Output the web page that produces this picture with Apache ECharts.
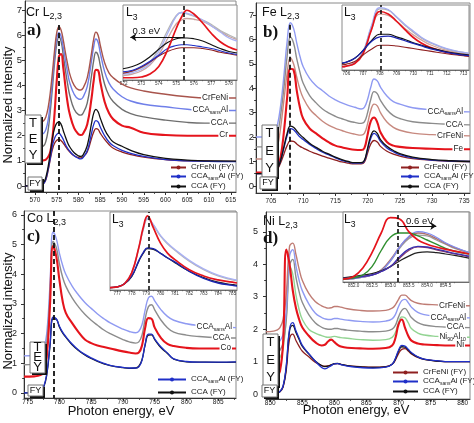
<!DOCTYPE html>
<html><head><meta charset="utf-8">
<script src="https://cdn.jsdelivr.net/npm/echarts@6/dist/echarts.min.js"></script>
<style>html,body{margin:0;padding:0;background:#fff}#c{width:474px;height:423px}</style>
</head><body><div id="c"></div>
<script>
// ===================== DATA =====================
// ---- Panel a) Cr L2,3 (main) ----
const crX = [567.7, 571, 572, 572.5, 573, 573.5, 574, 574.5, 575, 575.5, 576, 576.5, 577, 577.5, 578, 579, 580, 580.5, 581, 582, 583, 583.5, 584, 584.5, 585, 586, 587, 588, 590, 592, 595, 600, 605, 609, 612, 616.2];
const crCrFeNi = [2.5, 2.52, 2.6, 2.75, 3.1, 3.7, 4.5, 5.4, 6.1, 6.34, 6.2, 5.8, 5.3, 4.85, 4.45, 4.0, 3.83, 3.82, 3.88, 4.3, 5.3, 5.85, 6.12, 6.0, 5.6, 4.9, 4.5, 4.3, 4.05, 3.9, 3.78, 3.65, 3.55, 3.5, 3.5, 3.5];
const crSans = [2.0, 2.02, 2.1, 2.25, 2.6, 3.3, 4.2, 5.15, 5.85, 6.1, 5.95, 5.5, 5.0, 4.5, 4.1, 3.65, 3.46, 3.45, 3.52, 3.95, 5.0, 5.55, 5.85, 5.72, 5.3, 4.55, 4.1, 3.85, 3.55, 3.38, 3.25, 3.15, 3.05, 3.0, 3.0, 3.0];
const crCCA = [1.5, 1.52, 1.6, 1.78, 2.2, 2.95, 3.9, 4.9, 5.65, 5.93, 5.75, 5.2, 4.6, 4.05, 3.6, 3.05, 2.84, 2.82, 2.88, 3.3, 4.4, 5.0, 5.32, 5.2, 4.8, 4.05, 3.6, 3.35, 3.05, 2.88, 2.75, 2.62, 2.53, 2.5, 2.5, 2.5];
const crCr = [1.0, 1.0, 1.02, 1.05, 1.15, 1.35, 1.9, 2.9, 4.2, 5.15, 5.25, 4.7, 3.95, 3.3, 2.85, 2.3, 2.06, 2.03, 2.07, 2.45, 3.5, 4.2, 4.62, 4.6, 4.15, 3.35, 2.9, 2.65, 2.4, 2.32, 2.12, 2.03, 2.0, 2.0, 2.0, 2.0];
const crCrFeNiFY = [0.0, 0.02, 0.1, 0.25, 0.6, 1.05, 1.45, 1.7, 1.82, 1.85, 1.8, 1.7, 1.58, 1.45, 1.35, 1.2, 1.13, 1.12, 1.15, 1.35, 1.9, 2.15, 2.28, 2.25, 2.1, 1.85, 1.65, 1.5, 1.35, 1.25, 1.15, 1.05, 1.0, 1.0, 0.98, 0.98];
const crSansFY = [0.0, 0.02, 0.1, 0.28, 0.65, 1.1, 1.6, 1.9, 2.05, 2.1, 2.0, 1.85, 1.65, 1.5, 1.38, 1.2, 1.1, 1.08, 1.12, 1.4, 2.1, 2.45, 2.6, 2.55, 2.35, 2.0, 1.75, 1.6, 1.42, 1.3, 1.18, 1.05, 1.0, 0.98, 0.97, 0.97];
const crCCAFY = [0.0, 0.05, 0.15, 0.35, 0.75, 1.3, 1.9, 2.3, 2.5, 2.55, 2.45, 2.2, 1.95, 1.72, 1.55, 1.32, 1.2, 1.18, 1.22, 1.6, 2.5, 2.9, 3.05, 2.95, 2.7, 2.25, 1.95, 1.75, 1.58, 1.42, 1.25, 1.1, 1.03, 1.0, 1.0, 0.99];
// ---- Panel a) inset Cr L3 ----
const criX = [571.96, 572.5, 573, 573.5, 574, 574.5, 575, 575.3, 575.6, 576, 576.5, 577, 577.5, 578, 578.46];
const criCr = [0.03, 0.03, 0.04, 0.08, 0.18, 0.4, 0.69, 0.84, 0.93, 0.88, 0.76, 0.62, 0.51, 0.44, 0.4];
const criSans = [0.08, 0.1, 0.14, 0.22, 0.38, 0.62, 0.85, 0.9, 0.89, 0.86, 0.8, 0.72, 0.64, 0.56, 0.52];
const criCCA = [0.1, 0.12, 0.16, 0.24, 0.42, 0.66, 0.86, 0.9, 0.88, 0.85, 0.8, 0.74, 0.66, 0.6, 0.55];
const criCrFeNi = [0.06, 0.08, 0.12, 0.2, 0.34, 0.55, 0.75, 0.8, 0.82, 0.81, 0.78, 0.72, 0.65, 0.58, 0.54];
const criCCAFY = [0.15, 0.18, 0.23, 0.31, 0.41, 0.5, 0.55, 0.56, 0.56, 0.55, 0.52, 0.47, 0.42, 0.38, 0.36];
const criSansFY = [0.11, 0.13, 0.18, 0.25, 0.33, 0.42, 0.46, 0.47, 0.47, 0.46, 0.44, 0.42, 0.39, 0.36, 0.34];
const criCrFeNiFY = [0.09, 0.12, 0.17, 0.24, 0.32, 0.38, 0.42, 0.43, 0.43, 0.43, 0.42, 0.4, 0.37, 0.35, 0.33];

// ---- Panel b) Fe L2,3 (main) ----
const feX = [702.67, 704, 705, 705.5, 706, 706.5, 707, 707.5, 708, 708.5, 709, 709.5, 710, 711, 712, 713, 714, 715, 716, 717, 718, 719, 719.5, 720, 720.5, 721, 721.5, 722, 723, 724, 725, 727, 730, 733, 735.9];
const feSans = [2.0, 2.0, 2.05, 2.15, 2.5, 3.3, 4.5, 5.9, 6.68, 6.45, 5.85, 5.3, 4.88, 4.4, 4.1, 3.9, 3.68, 3.52, 3.4, 3.3, 3.22, 3.15, 3.22, 3.55, 4.05, 4.38, 4.3, 4.05, 3.68, 3.45, 3.35, 3.2, 3.12, 3.06, 3.03];
const feCCA = [1.6, 1.6, 1.65, 1.75, 2.1, 2.9, 4.0, 5.3, 6.1, 5.85, 5.2, 4.65, 4.2, 3.7, 3.4, 3.15, 2.98, 2.85, 2.75, 2.66, 2.6, 2.56, 2.62, 3.0, 3.55, 3.86, 3.78, 3.5, 3.12, 2.88, 2.76, 2.63, 2.56, 2.52, 2.5];
const feCrFeNi = [1.1, 1.1, 1.15, 1.25, 1.6, 2.4, 3.5, 4.6, 5.25, 5.0, 4.45, 3.95, 3.6, 3.15, 2.88, 2.65, 2.48, 2.36, 2.27, 2.18, 2.12, 2.08, 2.15, 2.55, 3.1, 3.35, 3.28, 3.0, 2.62, 2.4, 2.28, 2.16, 2.1, 2.07, 2.05];
const feFe = [0.55, 0.55, 0.57, 0.6, 0.75, 1.2, 2.2, 3.6, 4.8, 4.75, 3.9, 3.2, 2.75, 2.35, 2.15, 1.95, 1.78, 1.65, 1.58, 1.52, 1.48, 1.47, 1.55, 2.1, 2.65, 2.8, 2.6, 2.2, 1.8, 1.65, 1.6, 1.55, 1.52, 1.5, 1.5];
const feCCAFY = [0.5, 0.5, 0.52, 0.55, 0.7, 1.05, 1.6, 2.15, 2.45, 2.4, 2.25, 2.1, 1.98, 1.75, 1.58, 1.42, 1.3, 1.18, 1.08, 1.0, 0.95, 0.95, 1.05, 1.55, 2.05, 2.25, 2.15, 1.9, 1.62, 1.45, 1.32, 1.18, 1.08, 1.03, 1.0];
const feSansFY = [0.5, 0.5, 0.52, 0.55, 0.72, 1.05, 1.55, 2.05, 2.35, 2.3, 2.15, 2.0, 1.9, 1.7, 1.53, 1.38, 1.27, 1.15, 1.05, 0.98, 0.93, 0.93, 1.02, 1.48, 1.95, 2.15, 2.05, 1.82, 1.55, 1.4, 1.28, 1.15, 1.06, 1.02, 1.0];
const feCrFeNiFY = [0.5, 0.5, 0.52, 0.55, 0.68, 0.95, 1.3, 1.65, 1.84, 1.82, 1.72, 1.62, 1.55, 1.42, 1.32, 1.22, 1.14, 1.06, 0.98, 0.93, 0.9, 0.9, 0.97, 1.35, 1.72, 1.86, 1.8, 1.62, 1.42, 1.3, 1.22, 1.12, 1.05, 1.01, 1.0];
// ---- Panel b) inset Fe L3 ----
const feiX = [705.74, 706, 706.5, 707, 707.5, 708, 708.5, 709, 709.5, 710, 710.5, 711, 712, 713, 713.33];
const feiFe = [0.05, 0.06, 0.1, 0.25, 0.62, 0.9, 0.86, 0.75, 0.62, 0.5, 0.41, 0.35, 0.27, 0.23, 0.22];
const feiSans = [0.05, 0.06, 0.11, 0.28, 0.68, 0.96, 0.93, 0.82, 0.7, 0.6, 0.5, 0.43, 0.33, 0.27, 0.26];
const feiCCA = [0.05, 0.06, 0.11, 0.28, 0.66, 0.94, 0.92, 0.81, 0.69, 0.58, 0.49, 0.42, 0.32, 0.27, 0.25];
const feiCrFeNi = [0.05, 0.06, 0.1, 0.26, 0.62, 0.86, 0.84, 0.75, 0.64, 0.54, 0.46, 0.39, 0.3, 0.25, 0.24];
const feiCCAFY = [0.1, 0.12, 0.18, 0.3, 0.45, 0.55, 0.55, 0.51, 0.47, 0.42, 0.38, 0.34, 0.28, 0.24, 0.23];
const feiSansFY = [0.11, 0.12, 0.18, 0.3, 0.44, 0.51, 0.52, 0.49, 0.45, 0.41, 0.37, 0.33, 0.27, 0.23, 0.22];
const feiCrFeNiFY = [0.08, 0.09, 0.13, 0.23, 0.32, 0.38, 0.38, 0.37, 0.35, 0.33, 0.31, 0.29, 0.25, 0.22, 0.21];

// ---- Panel c) Co L2,3 (main) ----
const coX = [774.42, 776, 777, 777.5, 778, 778.5, 779, 779.5, 780, 780.5, 781, 782, 783, 784, 785, 786, 787, 788, 790, 791, 792, 792.5, 793, 793.5, 794, 794.5, 795, 796, 797, 798, 800, 802, 805, 807.8];
const coSans = [1.25, 1.27, 1.32, 1.45, 2.0, 3.6, 5.42, 5.2, 4.7, 4.3, 4.0, 3.6, 3.3, 3.05, 2.85, 2.66, 2.5, 2.36, 2.15, 2.07, 2.03, 2.08, 2.3, 2.8, 3.2, 3.26, 3.1, 2.8, 2.58, 2.45, 2.33, 2.27, 2.22, 2.2];
const coCCA = [0.95, 0.97, 1.02, 1.15, 1.7, 3.3, 5.1, 4.9, 4.35, 3.9, 3.6, 3.2, 2.9, 2.65, 2.45, 2.28, 2.12, 2.0, 1.8, 1.72, 1.68, 1.72, 1.95, 2.5, 2.9, 2.97, 2.8, 2.45, 2.2, 2.05, 1.95, 1.9, 1.86, 1.85];
const coCo = [0.55, 0.56, 0.6, 0.7, 1.2, 2.9, 4.95, 4.6, 3.8, 3.1, 2.7, 2.35, 2.05, 1.8, 1.68, 1.6, 1.55, 1.5, 1.4, 1.36, 1.33, 1.36, 1.6, 2.2, 2.52, 2.5, 2.2, 1.85, 1.65, 1.58, 1.52, 1.5, 1.5, 1.5];
const coSansFY = [0.0, 0.02, 0.08, 0.2, 0.65, 1.6, 2.55, 2.5, 2.25, 2.05, 1.9, 1.65, 1.45, 1.3, 1.18, 1.08, 1.0, 0.93, 0.86, 0.84, 0.84, 0.88, 1.1, 1.65, 1.98, 1.98, 1.82, 1.55, 1.35, 1.15, 1.06, 1.04, 1.04, 1.05];
const coCCAFY = [0.0, 0.02, 0.07, 0.18, 0.6, 1.55, 2.5, 2.48, 2.22, 2.02, 1.88, 1.62, 1.43, 1.28, 1.16, 1.06, 0.98, 0.92, 0.85, 0.83, 0.84, 0.9, 1.12, 1.62, 1.95, 1.96, 1.8, 1.52, 1.33, 1.14, 1.05, 1.04, 1.03, 1.04];
// ---- Panel c) inset Co L3 ----
const coiX = [776.49, 777, 777.5, 778, 778.5, 778.8, 779.1, 779.5, 780, 780.5, 781, 782, 783, 784, 785, 785.32];
const coiCo = [0.03, 0.04, 0.08, 0.22, 0.55, 0.8, 0.95, 0.8, 0.6, 0.47, 0.39, 0.26, 0.18, 0.13, 0.1, 0.09];
const coiSans = [0.03, 0.04, 0.08, 0.22, 0.55, 0.78, 0.92, 0.84, 0.7, 0.6, 0.52, 0.38, 0.27, 0.19, 0.14, 0.13];
const coiCCA = [0.03, 0.04, 0.08, 0.22, 0.54, 0.77, 0.91, 0.83, 0.69, 0.59, 0.51, 0.37, 0.26, 0.18, 0.13, 0.12];
const coiSansFY = [0.03, 0.04, 0.08, 0.18, 0.38, 0.48, 0.54, 0.53, 0.47, 0.41, 0.36, 0.24, 0.15, 0.09, 0.06, 0.05];
const coiCCAFY = [0.03, 0.04, 0.08, 0.17, 0.37, 0.47, 0.53, 0.52, 0.47, 0.41, 0.35, 0.24, 0.16, 0.1, 0.07, 0.06];

// ---- Panel d) Ni L2,3 (main) ----
const niX = [849.33, 850.5, 851, 851.5, 852, 852.5, 853, 853.5, 854, 854.5, 855, 856, 857, 858, 858.5, 859, 859.5, 860, 860.5, 861, 862, 864, 866, 868, 869, 869.5, 870, 870.5, 871, 871.5, 872, 873, 874, 876, 878, 881.14];
const niCrFeNi = [1.92, 1.94, 1.97, 2.05, 2.3, 3.1, 4.55, 4.65, 4.3, 3.85, 3.5, 3.1, 2.85, 2.72, 2.68, 2.65, 2.66, 2.7, 2.7, 2.68, 2.63, 2.58, 2.56, 2.58, 2.65, 2.75, 2.92, 3.05, 3.05, 2.97, 2.88, 2.8, 2.77, 2.75, 2.73, 2.72];
const niSans = [1.5, 1.52, 1.56, 1.64, 1.85, 2.6, 4.25, 4.45, 3.95, 3.5, 3.18, 2.78, 2.5, 2.36, 2.32, 2.3, 2.3, 2.33, 2.33, 2.31, 2.28, 2.24, 2.22, 2.25, 2.32, 2.45, 2.7, 2.88, 2.92, 2.82, 2.68, 2.52, 2.45, 2.4, 2.37, 2.35];
const niCCA = [1.22, 1.24, 1.27, 1.35, 1.58, 2.3, 3.95, 4.15, 3.6, 3.15, 2.82, 2.45, 2.2, 2.06, 2.02, 2.0, 2.0, 2.02, 2.02, 2.0, 1.97, 1.94, 1.92, 1.94, 2.0, 2.12, 2.38, 2.58, 2.64, 2.52, 2.36, 2.2, 2.13, 2.08, 2.06, 2.05];
const niNiAl = [1.0, 1.02, 1.05, 1.12, 1.4, 2.4, 3.95, 3.7, 3.05, 2.6, 2.3, 2.0, 1.88, 1.8, 1.77, 1.75, 1.76, 1.78, 1.76, 1.74, 1.72, 1.68, 1.66, 1.68, 1.75, 1.9, 2.2, 2.38, 2.35, 2.2, 2.02, 1.88, 1.82, 1.78, 1.76, 1.75];
const niNi = [0.5, 0.51, 0.55, 0.7, 1.6, 4.45, 4.0, 3.2, 2.65, 2.3, 2.05, 1.8, 1.6, 1.5, 1.52, 1.62, 1.68, 1.6, 1.52, 1.47, 1.43, 1.41, 1.4, 1.42, 1.5, 1.72, 2.15, 2.3, 2.05, 1.8, 1.65, 1.56, 1.53, 1.51, 1.5, 1.5];
const niSansFY = [0.0, 0.01, 0.03, 0.08, 0.25, 0.9, 2.0, 2.2, 1.95, 1.72, 1.5, 1.25, 1.02, 0.82, 0.78, 0.82, 0.88, 0.93, 0.94, 0.91, 0.86, 0.82, 0.8, 0.83, 0.92, 1.1, 1.35, 1.5, 1.48, 1.38, 1.28, 1.15, 1.08, 1.03, 1.0, 1.0];
const niCCAFY = [0.0, 0.01, 0.03, 0.08, 0.24, 0.85, 1.95, 2.12, 1.9, 1.68, 1.47, 1.24, 1.02, 0.88, 0.85, 0.86, 0.9, 0.94, 0.95, 0.92, 0.88, 0.84, 0.82, 0.84, 0.92, 1.08, 1.32, 1.46, 1.45, 1.36, 1.26, 1.14, 1.07, 1.02, 1.0, 1.0];
const niCrFeNiFY = [0.0, 0.01, 0.03, 0.07, 0.22, 0.75, 1.7, 1.85, 1.65, 1.47, 1.32, 1.15, 0.98, 0.88, 0.86, 0.87, 0.9, 0.93, 0.94, 0.92, 0.88, 0.85, 0.83, 0.85, 0.92, 1.05, 1.25, 1.38, 1.4, 1.33, 1.24, 1.13, 1.07, 1.02, 1.0, 1.0];
// ---- Panel d) inset Ni L3 ----
const niiX = [851.71, 852.0, 852.25, 852.5, 852.75, 853.0, 853.25, 853.5, 853.75, 854.0, 854.25, 854.5, 854.75, 855.14];
const niiNi = [0.04, 0.08, 0.2, 0.42, 0.7, 0.92, 0.9, 0.72, 0.6, 0.54, 0.5, 0.47, 0.44, 0.4];
const niiNiAl = [0.04, 0.06, 0.1, 0.22, 0.45, 0.64, 0.7, 0.7, 0.66, 0.6, 0.54, 0.48, 0.44, 0.4];
const niiSans = [0.04, 0.05, 0.07, 0.1, 0.16, 0.3, 0.5, 0.65, 0.72, 0.7, 0.64, 0.56, 0.5, 0.42];
const niiCCA = [0.04, 0.05, 0.07, 0.1, 0.17, 0.3, 0.48, 0.62, 0.67, 0.66, 0.6, 0.54, 0.48, 0.42];
const niiCrFeNi = [0.04, 0.05, 0.07, 0.1, 0.17, 0.32, 0.5, 0.64, 0.7, 0.68, 0.62, 0.55, 0.49, 0.42];
const niiSansFY = [0.05, 0.06, 0.08, 0.1, 0.15, 0.22, 0.36, 0.47, 0.51, 0.5, 0.47, 0.44, 0.41, 0.37];
const niiCrFeNiFY = [0.05, 0.06, 0.08, 0.1, 0.15, 0.22, 0.34, 0.45, 0.5, 0.49, 0.46, 0.43, 0.4, 0.36];
const niiCCAFY = [0.06, 0.08, 0.1, 0.12, 0.16, 0.22, 0.3, 0.37, 0.42, 0.43, 0.42, 0.4, 0.38, 0.34];

// ---- Tick labels ----
const crXTicks = [570, 575, 580, 585, 590, 595, 600, 605, 610, 615];
const crYTicks = [0, 1, 2, 3, 4, 5, 6, 7];
const feXTicks = [705, 710, 715, 720, 725, 730, 735];
const feYTicks = [0, 1, 2, 3, 4, 5, 6, 7];
const coXTicks = [775, 780, 785, 790, 795, 800, 805];
const coYTicks = [0, 1, 2, 3, 4, 5, 6];
const niXTicks = [850, 855, 860, 865, 870, 875, 880];
const niYTicks = [0, 1, 2, 3, 4, 5];
const criXTicks = [572, 573, 574, 575, 576, 577, 578];
const feiXTicks = [706, 707, 708, 709, 710, 711, 712, 713];
const coiXTicks = [777, 778, 779, 780, 781, 782, 783, 784, 785];
const niiXTicks = [852.0, 852.5, 853.0, 853.5, 854.0, 854.5];

// ---- Reference energies (dashed lines) and shifts ----
const dashMain = [575.4, 707.85, 779.1];     // a, b, c main panels
const dashMainTop = [6.41, 6.6, 6.13];
const dashInset = [575.45, 708.05, 779.2, 853.2];
const shiftA = [575.43, 572.38, 0.57];   // arrow from, to, level  (0.3 eV)
const shiftD = [853.2, 854.25, 0.8];     // arrow from, to, level  (0.6 eV)

// ===================== BUILD =====================
const FONT = '"Liberation Sans", Arial, sans-serif';
const COL = {
  el: '#e5141c', crfeniA: '#a8544c', crfeniB: '#c7897f', crfeniD: '#bf7c74',
  sansA: '#6f7fe9', sans: '#8f9af2', ccaA: '#6e6e6e', cca: '#8c8c8c',
  crfeniFY: '#8f2020', sansFY: '#2030c8', ccaFY: '#111111',
  nial: '#93d493', nialIn: '#2f8f2f'
};
const grid = [], xAxis = [], yAxis = [], series = [];

function minorsOf(ticks, range) {
  const step = ticks.length > 1 ? ticks[1] - ticks[0] : 1, out = [];
  for (let v = ticks[0] - step / 2; v <= range[1] + 1e-9; v += step) if (v >= range[0]) out.push(+v.toFixed(4));
  return out;
}
function mainPanel(box, xr, yr, xt, yt, st) {
  const gi = grid.push({left: box[0], top: box[1], width: box[2], height: box[3], show: true,
    borderColor: '#8a8a8a', borderWidth: 1, backgroundColor: 'transparent', containLabel: false, outerBoundsMode: 'none'}) - 1;
  const xi = xAxis.push({type: 'value', gridIndex: gi, min: xr[0], max: xr[1], position: 'bottom',
    axisLine: {show: true, onZero: false, lineStyle: {color: '#333', width: 1}},
    axisTick: {show: true, customValues: xt, length: 3, lineStyle: {color: '#333'}},
    axisLabel: {show: true, customValues: xt, fontSize: st.fx, margin: st.mx, color: '#222', fontFamily: FONT},
    splitLine: {show: false}}) - 1;
  xAxis.push({type: 'value', gridIndex: gi, min: xr[0], max: xr[1], position: 'bottom',
    axisLine: {show: false, onZero: false}, axisTick: {show: true, customValues: minorsOf(xt, xr), length: 1.8, lineStyle: {color: '#333'}},
    axisLabel: {show: false}, splitLine: {show: false}});
  const yi = yAxis.push({type: 'value', gridIndex: gi, min: yr[0], max: yr[1], position: 'left',
    axisLine: {show: true, onZero: false, lineStyle: {color: '#333', width: 1}},
    axisTick: {show: true, customValues: yt, length: 3, lineStyle: {color: '#333'}},
    axisLabel: {show: true, customValues: yt, fontSize: st.fy, margin: st.my, color: '#222', fontFamily: FONT},
    splitLine: {show: false}}) - 1;
  yAxis.push({type: 'value', gridIndex: gi, min: yr[0], max: yr[1], position: 'left',
    axisLine: {show: false, onZero: false}, axisTick: {show: true, customValues: minorsOf(yt, yr), length: 1.8, lineStyle: {color: '#333'}},
    axisLabel: {show: false}, splitLine: {show: false}});
  return {xi, yi};
}
function insetPanel(box, xr, xt, fmt) {
  const gi = grid.push({left: box[0], top: box[1], width: box[2], height: box[3], show: true,
    borderColor: '#8a8a8a', borderWidth: 1, backgroundColor: '#fff', containLabel: false, outerBoundsMode: 'none'}) - 1;
  const xi = xAxis.push({type: 'value', gridIndex: gi, min: xr[0], max: xr[1], position: 'bottom',
    axisLine: {show: true, onZero: false, lineStyle: {color: '#555', width: 0.8}},
    axisTick: {show: true, customValues: xt, length: 2, lineStyle: {color: '#555', width: 0.8}},
    axisLabel: {show: true, customValues: xt, fontSize: 4.6, margin: 1.5, color: '#333', fontFamily: FONT, formatter: fmt},
    splitLine: {show: false}}) - 1;
  xAxis.push({type: 'value', gridIndex: gi, min: xr[0], max: xr[1], position: 'bottom',
    axisLine: {show: false, onZero: false}, axisTick: {show: true, customValues: minorsOf(xt, xr), length: 1.2, lineStyle: {color: '#555', width: 0.8}},
    axisLabel: {show: false}, splitLine: {show: false}});
  const yi = yAxis.push({type: 'value', gridIndex: gi, min: 0, max: 1, show: false}) - 1;
  return {xi, yi};
}
const RICH = {
  m: {fontSize: 8.2, lineHeight: 9, verticalAlign: 'top', fontFamily: FONT, color: '#222'},
  s: {fontSize: 5.2, lineHeight: 5, verticalAlign: 'bottom', fontFamily: FONT, color: '#222'}
};
function richName(n) {
  if (n === 'Ni90Al10') return '{m|Ni}{s|90}{m|Al}{s|10}';
  const i = n.indexOf('sans');
  if (i < 0) return '{m|' + n + '}';
  return '{m|' + n.slice(0, i) + '}{s|sans}' + (n.slice(i + 4) ? '{m|' + n.slice(i + 4) + '}' : '');
}
function ln(name, ax, xs, ys, color, width, extra) {
  if (xs.length !== ys.length) console.error('length mismatch', name, xs.length, ys.length);
  return Object.assign({
    type: 'line', name, xAxisIndex: ax.xi, yAxisIndex: ax.yi,
    data: xs.map((x, i) => [x, ys[i]]),
    smooth: 0.45, symbol: 'circle', symbolSize: 3, showSymbol: false,
    lineStyle: {color, width}, itemStyle: {color},
    emphasis: {disabled: true}, silent: true, animation: false
  }, extra || {});
}
function endLab(name, dist) {
  return {endLabel: {show: true, formatter: richName(name), align: 'right', distance: -dist,
    backgroundColor: '#fff', padding: [0, 1, 0, 1], rich: RICH}};
}
function dashSeg(x, top, bottom) {
  return {silent: true, symbol: ['none', 'none'], label: {show: false}, animation: false,
    lineStyle: {color: '#111', type: [5, 3], width: 1.8},
    data: [[{coord: [x, top]}, {coord: [x, bottom]}]]};
}
function dashFull(x) {
  return {silent: true, symbol: ['none', 'none'], label: {show: false}, animation: false,
    lineStyle: {color: '#111', type: [4, 3], width: 1.6}, data: [{xAxis: x}]};
}
function arrow(sh) {
  return {silent: true, symbol: ['none', 'arrow'], symbolSize: 6, label: {show: false}, animation: false,
    lineStyle: {color: '#111', type: 'solid', width: 1},
    data: [[{coord: [sh[0], sh[2]]}, {coord: [sh[1], sh[2]]}]]};
}
function textAt(x, y, txt) {
  return {symbol: 'circle', symbolSize: 0, silent: true, animation: false,
    label: {show: true, position: 'inside', formatter: txt, fontSize: 9.5, color: '#111', fontFamily: FONT},
    data: [{coord: [x, y]}]};
}

// ---- a) ----
const A = mainPanel([25, 1, 211, 191], [567.7, 616.2], [-0.24, 7.36], crXTicks, crYTicks, {fx: 6.5, mx: 5, fy: 9.5, my: 3});
series.push(ln('CCA', A, crX, crCCA, COL.ccaA, 1.4, endLab('CCA', 7)));
series.push(ln('CCAsansAl', A, crX, crSans, COL.sansA, 1.4, endLab('CCAsansAl', 7)));
series.push(ln('CrFeNi', A, crX, crCrFeNi, COL.crfeniA, 1.4, endLab('CrFeNi', 7)));
series.push(ln('Cr', A, crX, crCr, COL.el, 2.1, endLab('Cr', 7)));
series.push(ln('CrFeNi (FY)', A, crX, crCrFeNiFY, COL.crfeniFY, 1.3));
series.push(ln('CCAsansAl (FY)', A, crX, crSansFY, COL.sansFY, 1.3));
series.push(ln('CCA (FY)', A, crX, crCCAFY, COL.ccaFY, 1.3, {markLine: dashSeg(dashMain[0], dashMainTop[0], -0.24)}));
const AI = insetPanel([123, 5, 114, 75], [571.96, 578.46], criXTicks, v => v);
series.push(ln('i-a CrFeNi', AI, criX, criCrFeNi, '#c9a3a0', 1.3));
series.push(ln('i-a CCA', AI, criX, criCCA, '#b5b5b5', 1.3));
series.push(ln('i-a sans', AI, criX, criSans, '#a9b1f3', 1.3));
series.push(ln('i-a FY brown', AI, criX, criCrFeNiFY, COL.crfeniFY, 1.1));
series.push(ln('i-a FY blue', AI, criX, criSansFY, COL.sansFY, 1.1));
series.push(ln('i-a FY black', AI, criX, criCCAFY, COL.ccaFY, 1.2, {markLine: arrow(shiftA), markPoint: textAt(573.29, 0.645, '0.3 eV')}));
series.push(ln('i-a Cr', AI, criX, criCr, COL.el, 1.7, {markLine: dashFull(dashInset[0])}));

// ---- b) ----
const B = mainPanel([256, 3, 214, 190], [702.67, 735.9], [-0.29, 7.49], feXTicks, feYTicks, {fx: 6.5, mx: 5, fy: 9.5, my: 2});
series.push(ln('CCAsansAl', B, feX, feSans, COL.sans, 1.4, endLab('CCAsansAl', 6)));
series.push(ln('CCA', B, feX, feCCA, COL.cca, 1.4, endLab('CCA', 6)));
series.push(ln('CrFeNi', B, feX, feCrFeNi, COL.crfeniB, 1.4, endLab('CrFeNi', 6)));
series.push(ln('Fe', B, feX, feFe, COL.el, 2.1, endLab('Fe', 6)));
series.push(ln('CrFeNi (FY)', B, feX, feCrFeNiFY, COL.crfeniFY, 1.3));
series.push(ln('CCAsansAl (FY)', B, feX, feSansFY, COL.sansFY, 1.3));
series.push(ln('CCA (FY)', B, feX, feCCAFY, COL.ccaFY, 1.3, {markLine: dashSeg(dashMain[1], dashMainTop[1], -0.29)}));
const BI = insetPanel([342, 5, 127, 65], [705.74, 713.33], feiXTicks, v => v);
series.push(ln('i-b CrFeNi', BI, feiX, feiCrFeNi, '#d3a29c', 1.3));
series.push(ln('i-b CCA', BI, feiX, feiCCA, '#b0b0b0', 1.3));
series.push(ln('i-b sans', BI, feiX, feiSans, '#a3acf3', 1.3));
series.push(ln('i-b Fe', BI, feiX, feiFe, COL.el, 1.7));
series.push(ln('i-b FY brown', BI, feiX, feiCrFeNiFY, COL.crfeniFY, 1.1));
series.push(ln('i-b FY black', BI, feiX, feiCCAFY, COL.ccaFY, 1.2));
series.push(ln('i-b FY blue', BI, feiX, feiSansFY, '#1a24b0', 1.3, {markLine: dashFull(dashInset[1])}));

// ---- c) ----
const Cc = mainPanel([24, 211, 212, 187], [774.42, 807.8], [-0.17, 6.13], coXTicks, coYTicks, {fx: 6.5, mx: 1, fy: 9, my: 7});
series.push(ln('CCAsansAl', Cc, coX, coSans, COL.sans, 1.4, endLab('CCAsansAl', 3)));
series.push(ln('CCA', Cc, coX, coCCA, COL.cca, 1.4, endLab('CCA', 5)));
series.push(ln('Co', Cc, coX, coCo, COL.el, 2.1, endLab('Co', 4)));
series.push(ln('CCA (FY)', Cc, coX, coCCAFY, COL.ccaFY, 1.3));
series.push(ln('CCAsansAl (FY)', Cc, coX, coSansFY, COL.sansFY, 1.3, {markLine: dashSeg(dashMain[2], dashMainTop[2], -0.17)}));
const CI = insetPanel([110, 212, 127, 78], [776.49, 785.32], coiXTicks, v => v);
series.push(ln('i-c CCA', CI, coiX, coiCCA, '#b5b5b5', 1.3));
series.push(ln('i-c sans', CI, coiX, coiSans, '#a9b1f3', 1.3));
series.push(ln('i-c FY black', CI, coiX, coiCCAFY, '#222', 1.2));
series.push(ln('i-c FY blue', CI, coiX, coiSansFY, '#1a24b0', 1.4));
series.push(ln('i-c Co', CI, coiX, coiCo, COL.el, 1.7, {markLine: dashFull(dashInset[2])}));

// ---- d) ----
const D = mainPanel([266, 212, 204, 187], [849.33, 881.14], [-0.15, 5.61], niXTicks, niYTicks, {fx: 6.5, mx: 1, fy: 9, my: 8});
series.push(ln('Ni90Al10', D, niX, niNiAl, COL.nial, 1.4, endLab('Ni90Al10', 3)));
series.push(ln('CCA', D, niX, niCCA, COL.cca, 1.4, endLab('CCA', 5)));
series.push(ln('CCAsansAl', D, niX, niSans, COL.sans, 1.4, endLab('CCAsansAl', 3)));
series.push(ln('CrFeNi', D, niX, niCrFeNi, COL.crfeniD, 1.4, endLab('CrFeNi', 4)));
series.push(ln('Ni', D, niX, niNi, COL.el, 2.1, endLab('Ni', 5)));
series.push(ln('CrFeNi (FY)', D, niX, niCrFeNiFY, COL.crfeniFY, 1.3));
series.push(ln('CCA (FY)', D, niX, niCCAFY, COL.ccaFY, 1.3));
series.push(ln('CCAsansAl (FY)', D, niX, niSansFY, COL.sansFY, 1.3));
const DI = insetPanel([343, 212, 126, 70], [851.71, 855.14], niiXTicks, v => v.toFixed(1));
series.push(ln('i-d CCA', DI, niiX, niiCCA, '#9a9a9a', 1.3));
series.push(ln('i-d CrFeNi', DI, niiX, niiCrFeNi, '#b0706a', 1.3));
series.push(ln('i-d sans', DI, niiX, niiSans, '#7f8cf0', 1.3));
series.push(ln('i-d FY black', DI, niiX, niiCCAFY, '#222', 1.2));
series.push(ln('i-d FY brown', DI, niiX, niiCrFeNiFY, '#8a3a6a', 1.2));
series.push(ln('i-d FY blue', DI, niiX, niiSansFY, '#3a2fb0', 1.3));
series.push(ln('i-d NiAl', DI, niiX, niiNiAl, COL.nialIn, 1.4));
series.push(ln('i-d Ni', DI, niiX, niiNi, COL.el, 1.7, {markLine: dashFull(dashInset[3])}));
series.push(ln('i-d arrow', DI, [], [], '#000', 0, {markLine: arrow(shiftD), markPoint: textAt(853.8, 0.87, '0.6 eV')}));

// ---- legends ----
const LRICH = {
  m: {fontSize: 8, lineHeight: 9, verticalAlign: 'top', fontFamily: FONT, color: '#222'},
  s: {fontSize: 5, lineHeight: 5, verticalAlign: 'bottom', fontFamily: FONT, color: '#222'}
};
function legendAt(left, top, names, iw, gap) {
  return {show: true, orient: 'vertical', left, top, data: names, selectedMode: false, padding: 0,
    itemGap: gap, itemWidth: iw, itemHeight: 5, formatter: richName,
    textStyle: {fontSize: 8, color: '#222', fontFamily: FONT, rich: LRICH}};
}
const fyNames = ['CrFeNi (FY)', 'CCAsansAl (FY)', 'CCA (FY)'];

// ---- annotations ----
const G = [];
function tey(x, y, w, h) {
  G.push({type: 'rect', z: 100, shape: {x: x + 2, y: y + 2, width: w, height: h}, style: {fill: '#111'}});
  G.push({type: 'rect', z: 101, shape: {x, y, width: w, height: h}, style: {fill: '#fff', stroke: '#777', lineWidth: 1}});
  ['T', 'E', 'Y'].forEach((c, i) => G.push({type: 'text', z: 102, x: x + w / 2, y: y + h * (i + 0.5) / 3,
    style: {text: c, font: '13px ' + FONT, fill: '#111', align: 'center', verticalAlign: 'middle', textAlign: 'center', textVerticalAlign: 'middle'}}));
}
function fy(x, y, w, h) {
  G.push({type: 'rect', z: 100, shape: {x: x + 2, y: y + 2, width: w, height: h}, style: {fill: '#111'}});
  G.push({type: 'rect', z: 101, shape: {x, y, width: w, height: h}, style: {fill: '#fff', stroke: '#777', lineWidth: 1}});
  G.push({type: 'text', z: 102, x: x + w / 2, y: y + h / 2,
    style: {text: 'FY', font: '9px ' + FONT, fill: '#111', align: 'center', verticalAlign: 'middle', textAlign: 'center', textVerticalAlign: 'middle'}});
}
function subText(left, top, main, sub, fs) {
  G.push({type: 'text', z: 103, left, top, style: {text: '{m|' + main + '}{s|' + sub + '}',
    rich: {m: {fontSize: fs, lineHeight: fs + 3, verticalAlign: 'top', fontFamily: FONT, fill: '#111'},
           s: {fontSize: fs * 0.72, lineHeight: fs * 0.72, verticalAlign: 'bottom', fontFamily: FONT, fill: '#111'}}}});
}
function plain(left, top, txt, font) {
  G.push({type: 'text', z: 103, left, top, style: {text: txt, font, fill: '#111'}});
}
tey(25, 115, 16, 48); fy(28, 177, 14, 13);
tey(262, 125, 15, 52); fy(260, 177, 16, 12);
tey(30, 342, 15, 31); fy(28, 385, 15, 11);
tey(263, 334, 15, 52); fy(262, 385, 15, 12);
subText(26, 6, 'Cr L', '2,3', 12.5); plain(27, 22, 'a)', 'bold 17px "Liberation Serif", serif');
subText(262, 6, 'Fe L', '2,3', 12.5); plain(263, 24, 'b)', 'bold 17px "Liberation Serif", serif');
subText(27, 212, 'Co L', '2,3', 12.5); plain(27, 228, 'c)', 'bold 17px "Liberation Serif", serif');
subText(263, 215, 'Ni L', '2,3', 12.5); plain(263, 230, 'd)', 'bold 17px "Liberation Serif", serif');
subText(126, 7, 'L', '3', 12); subText(344, 7, 'L', '3', 12);
subText(112, 214, 'L', '3', 12); subText(344, 214, 'L', '3', 12);
G.push({type: 'text', z: 103, x: 8, y: 105, rotation: Math.PI / 2,
  style: {text: 'Normalized intensity', font: '13px ' + FONT, fill: '#111', align: 'center', verticalAlign: 'middle', textAlign: 'center', textVerticalAlign: 'middle'}});
G.push({type: 'text', z: 103, x: 8, y: 311, rotation: Math.PI / 2,
  style: {text: 'Normalized intensity', font: '13px ' + FONT, fill: '#111', align: 'center', verticalAlign: 'middle', textAlign: 'center', textVerticalAlign: 'middle'}});
G.push({type: 'text', z: 103, x: 121, y: 411,
  style: {text: 'Photon energy, eV', font: '13px ' + FONT, fill: '#111', align: 'center', verticalAlign: 'middle', textAlign: 'center', textVerticalAlign: 'middle'}});
G.push({type: 'text', z: 103, x: 356, y: 410,
  style: {text: 'Photon energy, eV', font: '13px ' + FONT, fill: '#111', align: 'center', verticalAlign: 'middle', textAlign: 'center', textVerticalAlign: 'middle'}});

const chart = echarts.init(document.getElementById('c'), null, {renderer: 'canvas'});
chart.setOption({
  animation: false,
  backgroundColor: '#fff',
  grid, xAxis, yAxis, series,
  legend: [
    legendAt(170, 163, fyNames, 15, 1),
    legendAt(400, 163, fyNames, 18, 1),
    legendAt(157, 375, ['CCAsansAl (FY)', 'CCA (FY)'], 28, 4),
    legendAt(392, 368, fyNames, 25, 1)
  ],
  graphic: {elements: G}
});
</script></body></html>
